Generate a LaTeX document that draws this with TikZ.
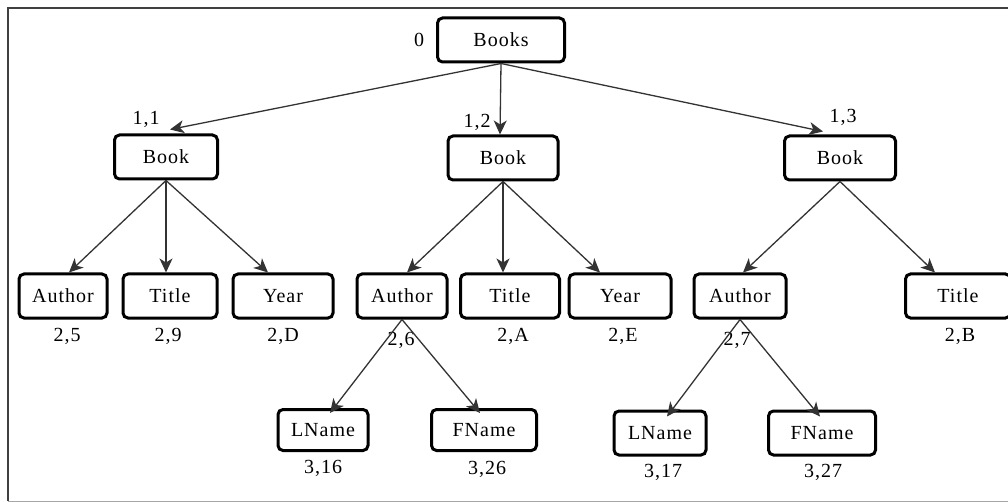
\documentclass[tikz,border=0pt]{standalone}
\usepackage{fontspec}
\setmainfont{Liberation Serif}[LetterSpace=5]
\usetikzlibrary{arrows.meta}
\tikzset{
  box/.style={draw=black, line width=3pt, rounded corners=5pt, fill=white,
    minimum height=#1, inner sep=0pt, font=\fontsize{20}{23}\selectfont},
  box/.default=44pt,
  lbl/.style={font=\fontsize{20}{23}\selectfont, inner sep=0pt},
  edge/.style={draw=black!80, line width=1.3pt, -{Stealth[length=14pt,width=13pt,inset=4pt]}},
}
\begin{document}
\begin{tikzpicture}[x=1pt,y=-1pt]
\useasboundingbox (0,0) rectangle (1008,502);
\clip (0,0) rectangle (1008,502);
% frame
\draw[black!75, line width=2.5pt] (8,501) -- (8,8) -- (1010,8);
\draw[black!35, line width=1pt] (8,501) -- (1010,501);

% nodes
\node[box, minimum width=127pt] (books) at (501,40) {Books};
\node[box, minimum width=103pt] (b1) at (166,157) {Book};
\node[box, minimum width=110pt] (b2) at (503,158) {Book};
\node[box, minimum width=111pt] (b3) at (840,158) {Book};

\node[box, minimum width=88pt] (a1) at (63,296) {Author};
\node[box, minimum width=94pt] (t1) at (170,296) {Title};
\node[box, minimum width=100pt] (y1) at (283,296) {Year};
\node[box, minimum width=90pt] (a2) at (402,296) {Author};
\node[box, minimum width=99pt] (t2) at (510,296) {Title};
\node[box, minimum width=102pt] (y2) at (620,296) {Year};
\node[box, minimum width=92pt] (a3) at (740,296) {Author};
\node[box, minimum width=105pt] (t3) at (958,296) {Title};

\node[box=41pt, minimum width=90pt] (l1) at (323,430) {LName};
\node[box=41pt, minimum width=105pt] (f1) at (484,430) {FName};
\node[box=44pt, minimum width=92pt] (l2) at (660,433) {LName};
\node[box=44pt, minimum width=107pt] (f2) at (822,433) {FName};

% labels
\node[lbl] (n0) at (419,40) {0};
\node[lbl] (n11) at (146,119) {1,1};
\node[lbl] (n12) at (477,122) {1,2};
\node[lbl] (n13) at (843,117) {1,3};
\node[lbl] (n25) at (67,336) {2,5};
\node[lbl] (n29) at (168,336) {2,9};
\node[lbl] (n2D) at (283,336) {2,D};
\node[lbl] (n26) at (401,340) {2,6};
\node[lbl] (n2A) at (513,336) {2,A};
\node[lbl] (n2E) at (623,336) {2,E};
\node[lbl] (n27) at (737,340) {2,7};
\node[lbl] (n2B) at (960,336) {2,B};
\node[lbl] (n316) at (323,468) {3,16};
\node[lbl] (n326) at (487,469) {3,26};
\node[lbl] (n317) at (663,472) {3,17};
\node[lbl] (n327) at (823,472) {3,27};

% edges
\draw[edge] (books.south) -- ([xshift=4pt,yshift=4pt]b1.north);
\draw[edge] (books.south) -- ([xshift=-3pt]b2.north);
\draw[edge] (books.south) -- ([xshift=-17pt,yshift=3pt]b3.north);

\draw[edge] (b1.south) -- ([xshift=6pt]a1.north);
\draw[edge] (b1.south) -- ([xshift=-4pt]t1.north);
\draw[edge] (b1.south) -- ([xshift=-15pt]y1.north);
\draw[edge] (b2.south) -- ([xshift=5pt]a2.north);
\draw[edge] (b2.south) -- ([xshift=-7pt]t2.north);
\draw[edge] (b2.south) -- ([xshift=-20pt]y2.north);
\draw[edge] (b3.south) -- ([xshift=3pt]a3.north);
\draw[edge] (b3.south) -- ([xshift=-23pt]t3.north);

\draw[edge] (a2.south) -- ([xshift=7pt,yshift=-5pt]l1.north);
\draw[edge] (a2.south) -- ([xshift=-4pt,yshift=-5pt]f1.north);
\draw[edge] (a3.south) -- ([xshift=7pt,yshift=-7pt]l2.north);
\draw[edge] (a3.south) -- ([xshift=-2pt,yshift=-7pt]f2.north);
\end{tikzpicture}
\end{document}
